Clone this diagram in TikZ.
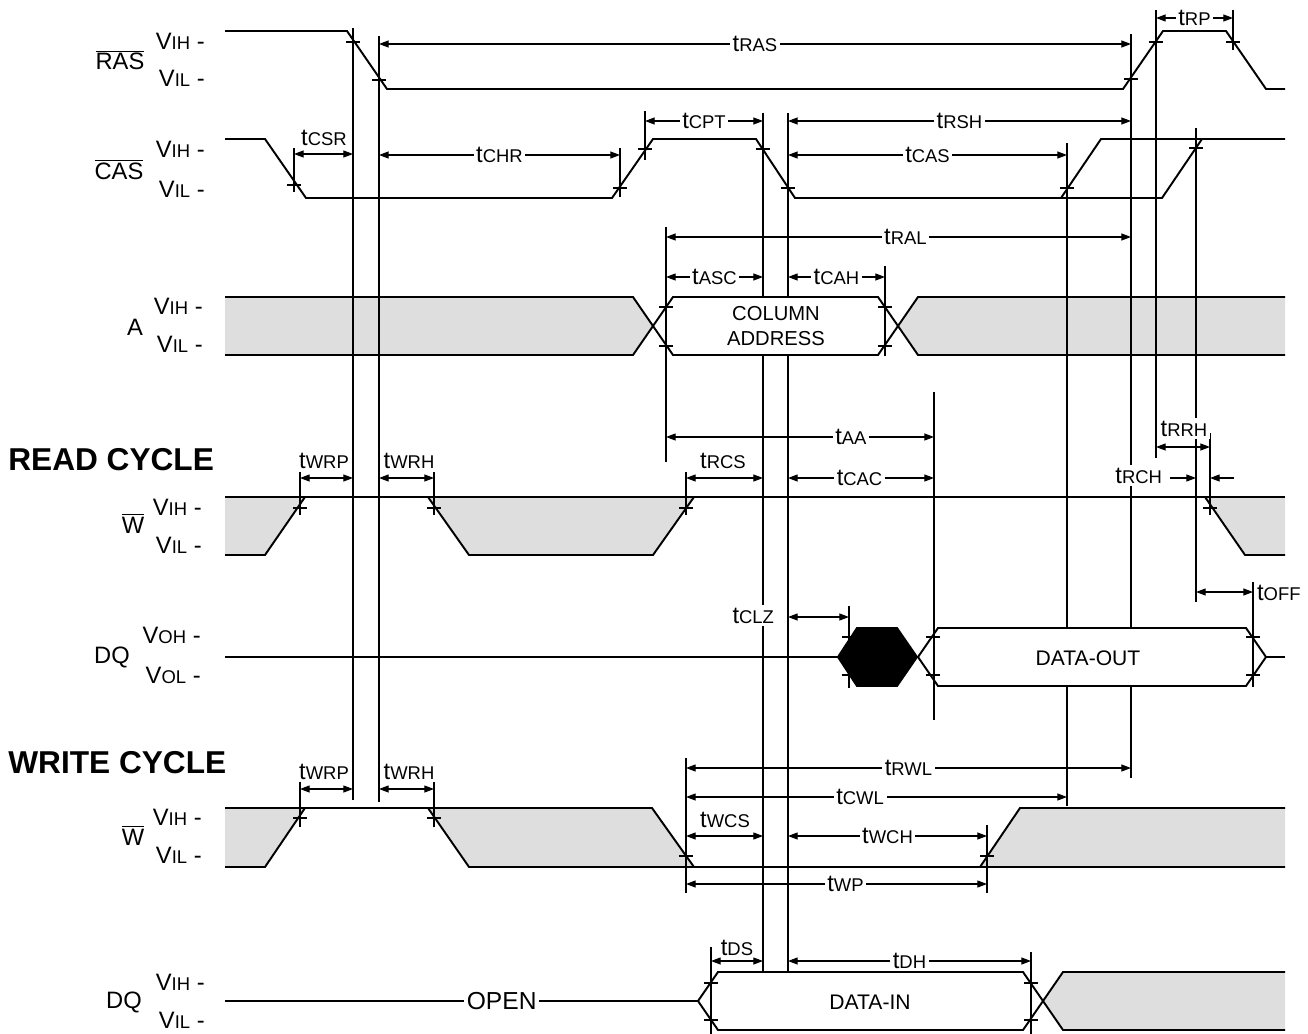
\documentclass[tikz,border=0pt]{standalone}
\usepackage{fontspec}
\setmainfont{Liberation Sans}
\usetikzlibrary{arrows.meta}
\definecolor{dcgray}{RGB}{222,222,222}
\newcommand{\subsz}{\fontsize{10.5}{12}\selectfont}
\newcommand{\tsub}[1]{t{\subsz #1}}
\newcommand{\vsub}[1]{V{\subsz #1} -}

\begin{document}
\begin{tikzpicture}[x=0.02cm,y=-0.02cm,
  font=\fontsize{13.5}{16}\selectfont,
  >={Triangle[length=5.5pt,width=4pt]},
  sig/.style={line width=1.1pt},
  thinl/.style={line width=0.6pt},
  dim/.style={thinl,<->},
  onl/.style={fill=white,inner sep=1.5pt},
  dcfill/.style={fill=dcgray}]
\useasboundingbox (0,0) rectangle (1308,1034);

% don't care areas
\fill[dcfill] (225,297) -- (633,297) -- (654,326) -- (633,355) -- (225,355) -- cycle;
\fill[dcfill] (898,326) -- (918,297) -- (1285,297) -- (1285,355) -- (918,355) -- cycle;
\fill[dcfill] (225,497) -- (305,497) -- (265,555) -- (225,555) -- cycle;
\fill[dcfill] (428,497) -- (694,497) -- (653,555) -- (469,555) -- cycle;
\fill[dcfill] (1205,497) -- (1285,497) -- (1285,555) -- (1245,555) -- cycle;
\fill[dcfill] (225,808) -- (305,808) -- (265,867) -- (225,867) -- cycle;
\fill[dcfill] (428,808) -- (652,808) -- (694,867) -- (469,867) -- cycle;
\fill[dcfill] (980,867) -- (1020,808) -- (1285,808) -- (1285,867) -- cycle;
\fill[dcfill] (1043,1001) -- (1063,972) -- (1285,972) -- (1285,1030) -- (1063,1030) -- cycle;

% reference lines
\draw[thinl] (353,28) -- (353,800);
\draw[thinl] (379,36) -- (379,802);
\draw[thinl] (666,227) -- (666,462);
\draw[thinl] (763,113) -- (763,297) (763,355) -- (763,972);
\draw[thinl] (788,113) -- (788,297) (788,355) -- (788,972);
\draw[thinl] (934,392) -- (934,720);
\draw[thinl] (1067,143) -- (1067,628) (1067,686) -- (1067,806);
\draw[thinl] (1131,34) -- (1131,628) (1131,686) -- (1131,778);
\draw[thinl] (1156,10) -- (1156,458);
\draw[thinl] (1196,128) -- (1196,602);
\draw[thinl] (1233,10) -- (1233,50);
\draw[thinl] (294,148) -- (294,192);
\draw[thinl] (620,148) -- (620,197);
\draw[thinl] (645,111) -- (645,160);
\draw[thinl] (885,266) -- (885,356);
\draw[thinl] (849,606) -- (849,688);
\draw[thinl] (1253,582) -- (1253,687);
\draw[thinl] (1210,433) -- (1210,515);
\draw[thinl] (300,472) -- (300,515);
\draw[thinl] (434,472) -- (434,515);
\draw[thinl] (686,472) -- (686,515);
\draw[thinl] (300,782) -- (300,827);
\draw[thinl] (434,782) -- (434,827);
\draw[thinl] (686,758) -- (686,893);
\draw[thinl] (987,825) -- (987,893);
\draw[thinl] (711,947) -- (711,1034);
\draw[thinl] (1031,952) -- (1031,1034);

% RAS
\draw[sig] (225,31) -- (347,31) -- (387,89) -- (1123,89) -- (1163,31) -- (1226,31) -- (1266,89) -- (1285,89);
% CAS
\draw[sig] (225,139) -- (265,139) -- (306,198) -- (612,198) -- (653,139) -- (756,139) -- (795,198) -- (1162,198) -- (1202,139);
\draw[sig] (1061,198) -- (1101,139) -- (1285,139);
% A
\draw[sig] (225,297) -- (633,297) -- (673,355) -- (878,355) -- (918,297) -- (1285,297);
\draw[sig] (225,355) -- (633,355) -- (673,297) -- (878,297) -- (918,355) -- (1285,355);
% W, read
\draw[sig] (225,497) -- (1285,497);
\draw[sig] (225,555) -- (265,555) -- (305,497);
\draw[sig] (428,497) -- (469,555) -- (653,555) -- (694,497);
\draw[sig] (1205,497) -- (1245,555) -- (1285,555);
% DQ, read
\draw[sig] (225,657) -- (838,657);
\draw[sig,fill=black] (838,657) -- (857,628) -- (897,628) -- (917,657) -- (897,686) -- (857,686) -- cycle;
\draw[sig] (918,657) -- (938,628) -- (1246,628) -- (1266,657) -- (1246,686) -- (938,686) -- cycle;
\draw[sig] (1266,657) -- (1285,657);
% W, write
\draw[sig] (225,808) -- (652,808) -- (694,867);
\draw[sig] (225,867) -- (265,867) -- (305,808);
\draw[sig] (428,808) -- (469,867) -- (1285,867);
\draw[sig] (980,867) -- (1020,808) -- (1285,808);
% DQ, write
\draw[sig] (225,1001) -- node[pos=0.585,onl] (open) {\fontsize{14}{16}\selectfont OPEN} (698,1001);
\draw[sig] (698,1001) -- (718,972) -- (1023,972) -- (1063,1030) -- (1285,1030);
\draw[sig] (698,1001) -- (718,1030) -- (1023,1030) -- (1063,972) -- (1285,972);

% crossing marks
\draw[thinl] (353,42) ++(-7,0) -- ++(14,0) (379,80) ++(-7,0) -- ++(14,0)
  (1131,79) ++(-7,0) -- ++(14,0) (1156,42) ++(-7,0) -- ++(14,0) (1233,42) ++(-7,0) -- ++(14,0);
\draw[thinl] (294,185) ++(-7,0) -- ++(14,0) (620,188) ++(-7,0) -- ++(14,0)
  (645,149) ++(-7,0) -- ++(14,0) (763,149) ++(-7,0) -- ++(14,0) (788,188) ++(-7,0) -- ++(14,0)
  (1067,188) ++(-7,0) -- ++(14,0) (1196,148) ++(-7,0) -- ++(14,0);
\draw[thinl] (666,307) ++(-7,0) -- ++(14,0) (666,346) ++(-7,0) -- ++(14,0)
  (885,307) ++(-7,0) -- ++(14,0) (885,346) ++(-7,0) -- ++(14,0);
\draw[thinl] (300,508) ++(-7,0) -- ++(14,0) (434,508) ++(-7,0) -- ++(14,0)
  (686,508) ++(-7,0) -- ++(14,0) (1210,508) ++(-7,0) -- ++(14,0);
\draw[thinl] (849,637) ++(-7,0) -- ++(14,0) (849,675) ++(-7,0) -- ++(14,0)
  (933,637) ++(-7,0) -- ++(14,0) (933,675) ++(-7,0) -- ++(14,0)
  (1253,637) ++(-7,0) -- ++(14,0) (1253,675) ++(-7,0) -- ++(14,0);
\draw[thinl] (300,818) ++(-7,0) -- ++(14,0) (434,818) ++(-7,0) -- ++(14,0)
  (686,856) ++(-7,0) -- ++(14,0) (987,856) ++(-7,0) -- ++(14,0);
\draw[thinl] (711,983) ++(-7,0) -- ++(14,0) (711,1020) ++(-7,0) -- ++(14,0)
  (1031,983) ++(-7,0) -- ++(14,0) (1031,1020) ++(-7,0) -- ++(14,0);

% signal names
\node[anchor=base] (ras) at (120,70) {$\overline{\hbox{RAS}}$};
\node[anchor=base east,inner sep=0pt] (rasvih) at (205,50) {\vsub{IH}};
\node[anchor=base east,inner sep=0pt] (rasvil) at (205,87) {\vsub{IL}};
\node[anchor=base] (cas) at (119,179) {$\overline{\hbox{CAS}}$};
\node[anchor=base east,inner sep=0pt] (casvih) at (205,157) {\vsub{IH}};
\node[anchor=base east,inner sep=0pt] (casvil) at (205,197) {\vsub{IL}};
\node[anchor=base] (addr) at (135,335) {A};
\node[anchor=base east,inner sep=0pt] (avih) at (203,314) {\vsub{IH}};
\node[anchor=base east,inner sep=0pt] (avil) at (203,352) {\vsub{IL}};
\node[anchor=base west,inner sep=0pt] (read) at (8,470) {\fontsize{18}{20}\selectfont\bfseries READ CYCLE};
\node[anchor=base] (wr) at (133,533) {$\overline{\hbox{W}}$};
\node[anchor=base east,inner sep=0pt] (wrvih) at (202,515) {\vsub{IH}};
\node[anchor=base east,inner sep=0pt] (wrvil) at (202,553) {\vsub{IL}};
\node[anchor=base] (dqr) at (112,663) {DQ};
\node[anchor=base east,inner sep=0pt] (dqrvoh) at (201,643) {\vsub{OH}};
\node[anchor=base east,inner sep=0pt] (dqrvol) at (201,683) {\vsub{OL}};
\node[anchor=base west,inner sep=0pt] (write) at (8,773) {\fontsize{18}{20}\selectfont\bfseries WRITE CYCLE};
\node[anchor=base] (ww) at (133,845) {$\overline{\hbox{W}}$};
\node[anchor=base east,inner sep=0pt] (wwvih) at (202,825) {\vsub{IH}};
\node[anchor=base east,inner sep=0pt] (wwvil) at (202,863) {\vsub{IL}};
\node[anchor=base] (dqw) at (124,1008) {DQ};
\node[anchor=base east,inner sep=0pt] (dqwvih) at (205,990) {\vsub{IH}};
\node[anchor=base east,inner sep=0pt] (dqwvil) at (205,1028) {\vsub{IL}};

% data texts
\node[align=center,font=\fontsize{11.5}{14}\selectfont] (coladdr) at (776,326) {COLUMN\\ADDRESS};
\node[font=\fontsize{12}{14}\selectfont] (dout) at (1088,658) {DATA-OUT};
\node[font=\fontsize{12}{14}\selectfont] (din) at (870,1002) {DATA-IN};

% timing parameters
\draw[dim] (379,44) -- node[onl] (tras) {\tsub{RAS}} (1131,44);
\draw[dim] (1156,18) -- node[onl] (trp) {\tsub{RP}} (1233,18);
\draw[dim] (294,154) -- (353,154);
\node[anchor=base] (tcsr) at (324,145) {\tsub{CSR}};
\draw[dim] (379,155) -- node[onl] (tchr) {\tsub{CHR}} (620,155);
\draw[dim] (645,121) -- node[onl] (tcpt) {\tsub{CPT}} (763,121);
\draw[dim] (788,121) -- node[onl] (trsh) {\tsub{RSH}} (1131,121);
\draw[dim] (788,155) -- node[onl] (tcas) {\tsub{CAS}} (1067,155);
\draw[dim] (666,237) -- node[onl,pos=0.515] (tral) {\tsub{RAL}} (1131,237);
\draw[dim] (666,277) -- node[onl] (tasc) {\tsub{ASC}} (763,277);
\draw[dim] (788,277) -- node[onl] (tcah) {\tsub{CAH}} (885,277);
\draw[dim] (666,437) -- node[onl,pos=0.69] (taa) {\tsub{AA}} (934,437);
\draw[dim] (300,478) -- (353,478);
\node[anchor=base] (twrpr) at (324,468) {\tsub{WRP}};
\draw[dim] (379,478) -- (434,478);
\node[anchor=base] (twrhr) at (409,468) {\tsub{WRH}};
\draw[dim] (686,478) -- (763,478);
\node[anchor=base] (trcs) at (723,468) {\tsub{RCS}};
\draw[dim] (788,478) -- node[onl,pos=0.49] (tcac) {\tsub{CAC}} (934,478);
\draw[dim] (1156,447) -- (1210,447);
\node[anchor=base,onl] (trrh) at (1184,436) {\tsub{RRH}};
\node[anchor=base east,onl] (trch) at (1165,483) {\tsub{RCH}};
\draw[thinl,->] (1170,478) -- (1196,478);
\draw[thinl,->] (1234,478) -- (1210,478);
\draw[dim] (1196,592) -- (1253,592);
\node[anchor=base west,inner sep=1pt] (toff) at (1255,600) {\tsub{OFF}};
\node[anchor=base east,onl] (tclz) at (777,623) {\tsub{CLZ}};
\draw[dim] (788,617) -- (849,617);
\draw[dim] (300,789) -- (353,789);
\node[anchor=base] (twrpw) at (324,779) {\tsub{WRP}};
\draw[dim] (379,789) -- (434,789);
\node[anchor=base] (twrhw) at (409,779) {\tsub{WRH}};
\draw[dim] (686,768) -- node[onl] (trwl) {\tsub{RWL}} (1131,768);
\draw[dim] (686,797) -- node[onl,pos=0.457] (tcwl) {\tsub{CWL}} (1067,797);
\draw[dim] (686,836) -- (763,836);
\node[anchor=base] (twcs) at (725,827) {\tsub{WCS}};
\draw[dim] (788,836) -- node[onl] (twch) {\tsub{WCH}} (987,836);
\draw[dim] (686,884) -- node[onl,pos=0.53] (twp) {\tsub{WP}} (987,884);
\draw[dim] (711,961) -- (763,961);
\node[anchor=base] (tds) at (737,955) {\tsub{DS}};
\draw[dim] (788,961) -- node[onl] (tdh) {\tsub{DH}} (1031,961);
\end{tikzpicture}
\end{document}
